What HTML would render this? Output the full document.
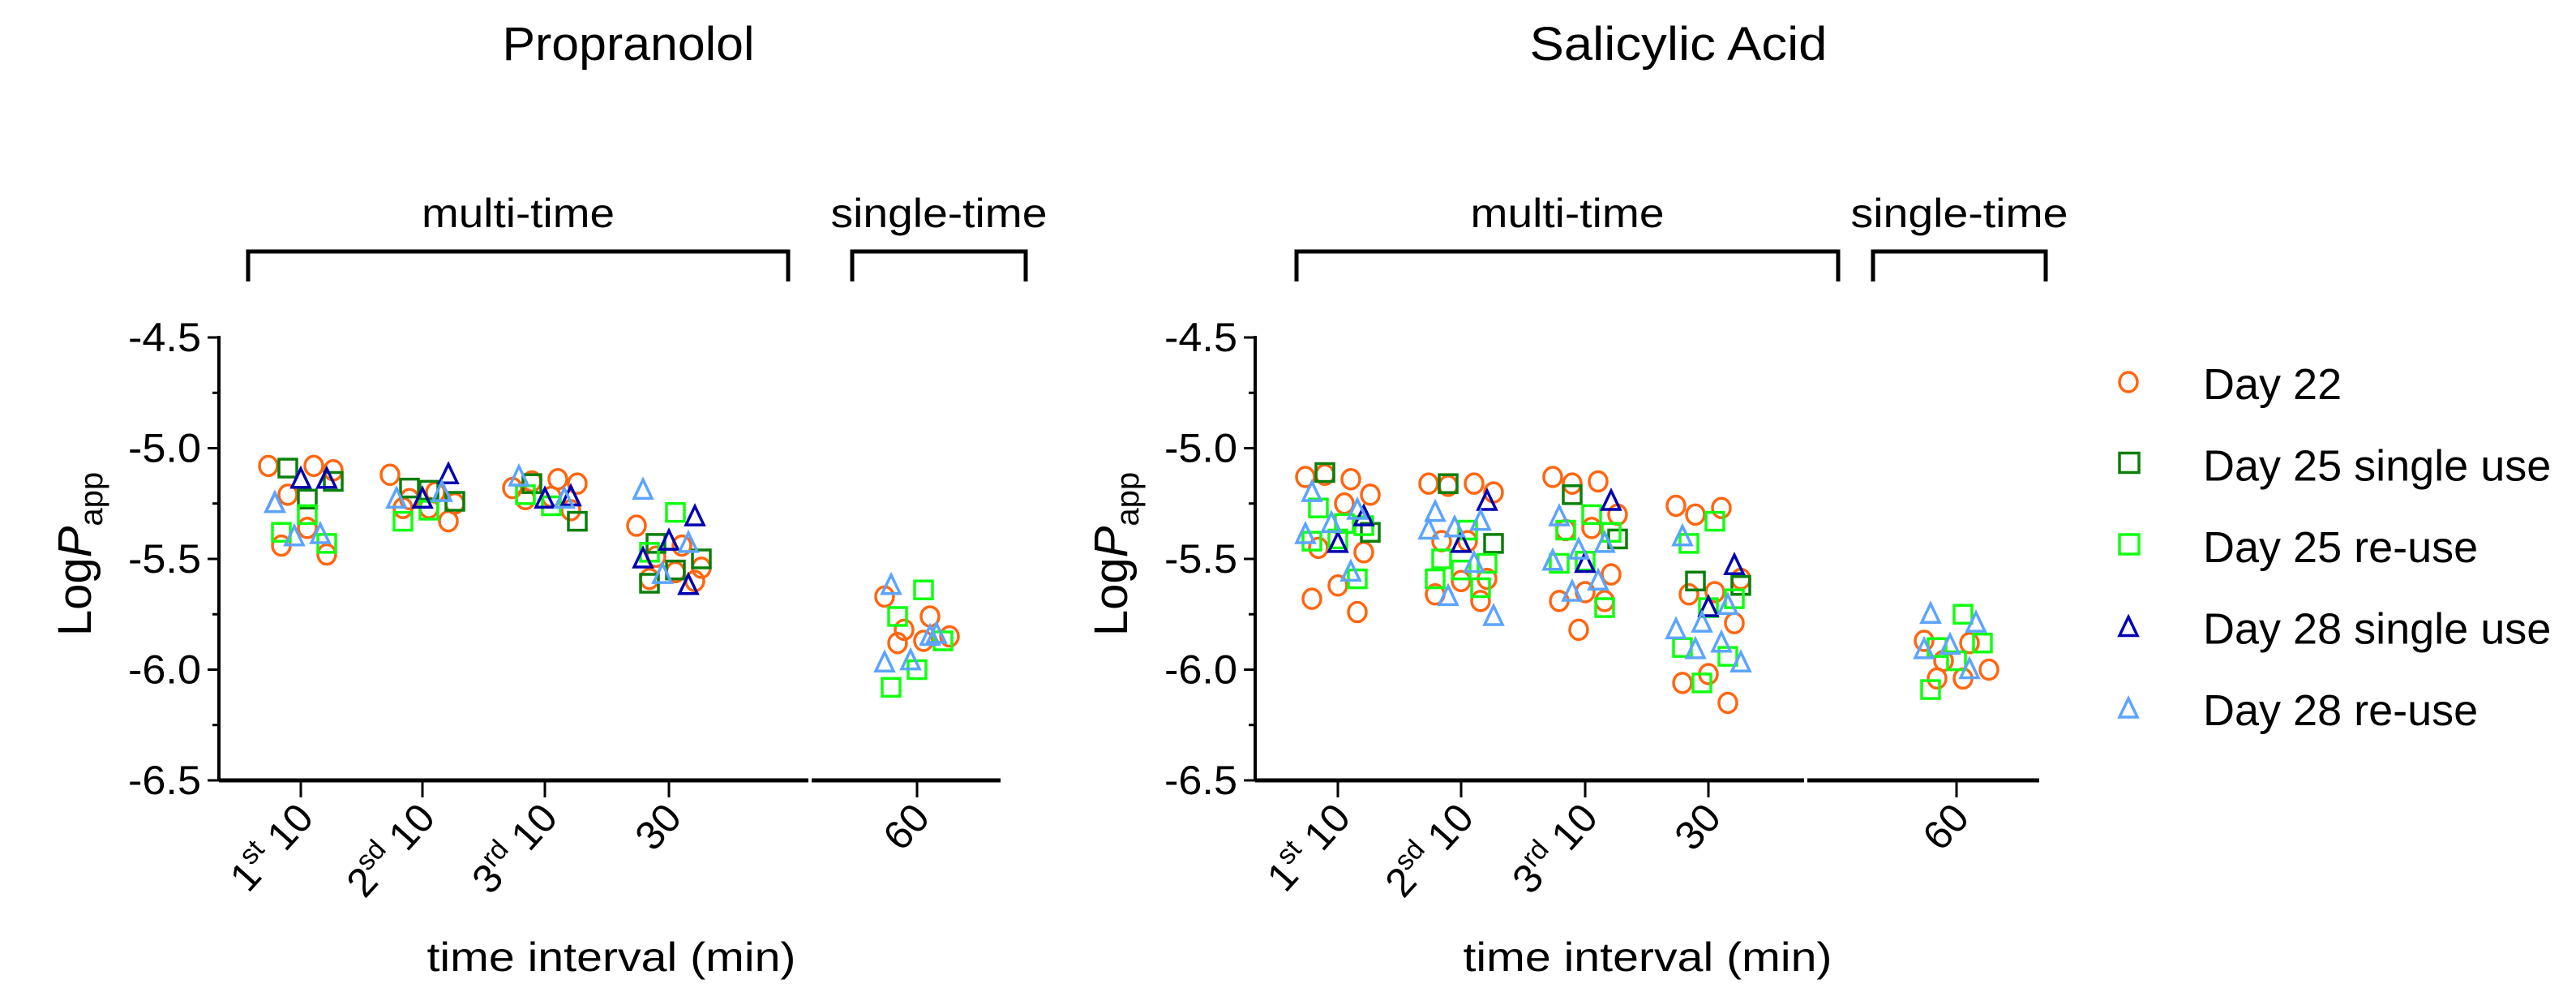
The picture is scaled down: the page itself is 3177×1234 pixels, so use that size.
<!DOCTYPE html>
<html><head><meta charset="utf-8"><style>
html,body{margin:0;padding:0;background:#fff;}
svg{display:block;font-family:"Liberation Sans",Arial,sans-serif;}
</style></head><body>
<svg id="chart" width="3177" height="1234" viewBox="0 0 3177 1234">
<g id="static"></g>
<g id="marks"></g>
</svg>
<script>
// ---- data ----
const categories = ["1st 10","2sd 10","3rd 10","30","60"];
const yTicks = [-4.5,-5.0,-5.5,-6.0,-6.5];
const seriesNames = ["Day 22","Day 25 single use","Day 25 re-use","Day 28 single use","Day 28 re-use"];
// Propranolol: per series, per category arrays of LogPapp
const propDay22 = [[-5.08,-5.08,-5.21,-5.10,-5.36,-5.44,-5.48],[-5.12,-5.20,-5.23,-5.25,-5.27,-5.27,-5.33],[-5.18,-5.14,-5.15,-5.16,-5.22,-5.23,-5.28],[-5.35,-5.44,-5.49,-5.54,-5.56,-5.59,-5.60],[-5.67,-5.76,-5.82,-5.85,-5.87,-5.88]];
const propDay25Single = [[-5.09,-5.15,-5.23],[-5.18,-5.24,-5.19],[-5.16,-5.33],[-5.43,-5.50,-5.55,-5.61],[]];
const propDay25Reuse = [[-5.30,-5.38,-5.43],[-5.28,-5.33],[-5.26,-5.21],[-5.29,-5.47],[-5.64,-5.76,-5.87,-6.00,-6.08]];
const propDay28Single = [[-5.14,-5.14,-5.25],[-5.12,-5.23],[-5.22,-5.23],[-5.31,-5.42,-5.50,-5.62],[]];
const propDay28Reuse = [[-5.25,-5.39,-5.40],[-5.23,-5.20],[-5.13,-5.23],[-5.19,-5.43,-5.57],[-5.62,-5.84,-5.96,-5.97,-5.85]];
// Salicylic Acid
const salDay22 = [[-5.13,-5.14,-5.12,-5.21,-5.25,-5.45,-5.47,-5.62,-5.68,-5.74],[-5.16,-5.16,-5.17,-5.20,-5.42,-5.42,-5.59,-5.60,-5.66,-5.69],[-5.13,-5.15,-5.16,-5.30,-5.36,-5.37,-5.57,-5.65,-5.69,-5.69,-5.82],[-5.26,-5.27,-5.30,-5.59,-5.65,-5.66,-5.79,-6.02,-6.06,-6.15],[-5.87,-5.88,-5.96,-6.00,-6.04,-6.04]];
const salDay25Single = [[-5.11,-5.38],[-5.16,-5.43],[-5.21,-5.41],[-5.60,-5.62],[]];
const salDay25Reuse = [[-5.34,-5.27,-5.35,-5.41,-5.42,-5.59],[-5.37,-5.50,-5.52,-5.55,-5.59,-5.63],[-5.30,-5.37,-5.38,-5.51,-5.52,-5.72],[-5.33,-5.43,-5.68,-5.72,-5.90,-5.94,-6.06],[-5.75,-5.90,-5.88,-5.96,-6.09]];
const salDay28Single = [[-5.31,-5.43],[-5.24,-5.43],[-5.24,-5.52],[-5.53,-5.72],[]];
const salDay28Reuse = [[-5.20,-5.28,-5.34,-5.39,-5.56],[-5.29,-5.33,-5.36,-5.37,-5.52,-5.67,-5.76],[-5.31,-5.43,-5.46,-5.51,-5.60,-5.65],[-5.40,-5.71,-5.79,-5.82,-5.88,-5.91,-5.97],[-5.75,-5.79,-5.89,-5.91,-6.00]];

const colors = ["#ff6611","#0a7f0a","#11ff11","#0000b0","#5ca4ff"];
const shapes = ["circle","square","square","triangle","triangle"];

const NS = "http://www.w3.org/2000/svg";
const S = document.getElementById('static');
const M = document.getElementById('marks');
function mk(tag, attrs, parent, text){
  const e = document.createElementNS(NS, tag);
  for (const k in attrs) e.setAttribute(k, attrs[k]);
  if (text !== undefined) e.textContent = text;
  (parent||S).appendChild(e);
  return e;
}
const yTop = 416, yBot = 962;
function yScale(v){ return yTop + (-4.5 - v) / 2.0 * (yBot - yTop); }

const panels = [
  {name:"propranolol", title:"Propranolol", titleX:775, titleW:311, axisX:270, axisEnd:1234, gap:[997,1001],
   ticks:[371,521,672,825,1131], b1:[306,972], b2:[1051,1265], t1:[665,238], t2:[1162,267], xTitle:754,
   data:[propDay22,propDay25Single,propDay25Reuse,propDay28Single,propDay28Reuse]},
  {name:"salicylic-acid", title:"Salicylic Acid", titleX:2070, titleW:367, axisX:1548, axisEnd:2515, gap:[2225,2229],
   ticks:[1650,1802,1955,2107,2413], b1:[1599,2267], b2:[2310,2523], t1:[1960,239], t2:[2422,268], xTitle:2032,
   data:[salDay22,salDay25Single,salDay25Reuse,salDay28Single,salDay28Reuse]}
];

function xScale(p, ci){ return p.ticks[ci]; }

panels.forEach((p)=>{
  const g = mk('g',{});
  
  
  const t = mk('text',{x:p.titleX,y:74,'text-anchor':'middle','font-size':58,textLength:p.titleW,lengthAdjust:'spacingAndGlyphs'},g,p.title);
  
  
  [[p.b1,p.t1,'multi-time'],[p.b2,p.t2,'single-time']].forEach(([b,tw,lab])=>{
    const br = mk('path',{d:`M${b[0]} 347 V310 H${b[1]} V347`,fill:'none',stroke:'#000','stroke-width':5},g);
    
    
    const bl = mk('text',{x:(b[0]+b[1])/2,y:280,'text-anchor':'middle','font-size':50,textLength:tw[1],lengthAdjust:'spacingAndGlyphs'},g,lab);
    
    
  });
  const ya = mk('line',{x1:p.axisX,y1:yTop-2,x2:p.axisX,y2:yBot,stroke:'#000','stroke-width':4},g);
  
  
  for (let v=-4.5; v>=-6.51; v-=0.25){
    const major = Math.abs(v*2 - Math.round(v*2))<1e-6;
    mk('line',{x1:p.axisX-(major?14:8),y1:yScale(v),x2:p.axisX,y2:yScale(v),stroke:'#000','stroke-width':3},g);
  }
  yTicks.forEach(v=>{
    const tl = mk('text',{x:p.axisX-22,y:yScale(v)+17,'text-anchor':'end','font-size':50,textLength:90,lengthAdjust:'spacingAndGlyphs'},g,v.toFixed(1));
    
    
  });
  const yt = mk('text',{transform:`translate(${p.axisX-158},683) rotate(-90)`,'text-anchor':'middle','font-size':58},g);
  
  
  mk('tspan',{},yt,'Log');
  mk('tspan',{'font-style':'italic'},yt,'P');
  mk('tspan',{'font-size':40,dy:14},yt,'app');
  const xa = mk('path',{d:`M${p.axisX} ${yBot} H${p.gap[0]} M${p.gap[1]} ${yBot} H${p.axisEnd}`,stroke:'#000','stroke-width':5,fill:'none'},g);
  
  
  categories.forEach((c,ci)=>{
    const x = xScale(p,ci);
    mk('line',{x1:x,y1:yBot,x2:x,y2:983,stroke:'#000','stroke-width':3},g);
    const lt = mk('text',{transform:`translate(${x+18},1010) rotate(-48)`,'text-anchor':'end','font-size':50},g);
    
    
    const m = c.match(/^(\d)(st|sd|rd) (.*)$/);
    if (m){
      mk('tspan',{},lt,m[1]);
      mk('tspan',{'font-size':34,dy:-20},lt,m[2]);
      mk('tspan',{dy:20},lt,' '+m[3]);
    } else lt.textContent = c;
  });
  const xt = mk('text',{x:p.xTitle,y:1197,'text-anchor':'middle','font-size':50,textLength:455,lengthAdjust:'spacingAndGlyphs'},g,'time interval (min)');
  
  
  p.data.forEach((series,si)=>{
    series.forEach((vals,ci)=>{
      vals.forEach((v,i)=>{
        const x = xScale(p,ci) + (((i*7 + si*3) % 11) - 5) * 8;
        const y = yScale(v);
        const el = drawMarker(shapes[si], colors[si], x, y, M);
        
        
      });
    });
  });
});

function drawMarker(shape,color,x,y,parent){
  if (shape==='circle') return mk('ellipse',{cx:x,cy:y,rx:11,ry:12,fill:'none',stroke:color,'stroke-width':3.5},parent);
  if (shape==='square') return mk('rect',{x:x-11,y:y-11,width:22,height:22,fill:'none',stroke:color,'stroke-width':3.5},parent);
  return mk('path',{d:`M${x} ${y-13} L${x+11} ${y+10} L${x-11} ${y+10} Z`,fill:'none',stroke:color,'stroke-width':3.5,'stroke-linejoin':'miter'},parent);
}

const lg = mk('g',{});


seriesNames.forEach((n,si)=>{
  const cy = 471 + si*100.5;
  const e = mk('g',{},lg);
  
  
  const mm = shapes[si]==='circle' ? mk('ellipse',{cx:2625,cy:cy,rx:11,ry:12,fill:'none',stroke:colors[si],'stroke-width':3.5},e)
    : shapes[si]==='square' ? mk('rect',{x:2614,y:cy-13,width:24,height:24,fill:'none',stroke:colors[si],'stroke-width':3.5},e)
    : mk('path',{d:`M2625 ${cy-12} L2636 ${cy+11} L2614 ${cy+11} Z`,fill:'none',stroke:colors[si],'stroke-width':3.5},e);
  
  
  const tx = mk('text',{x:2717,y:cy+21,'font-size':54},e,n);
  
  
});
</script>
</body></html>
